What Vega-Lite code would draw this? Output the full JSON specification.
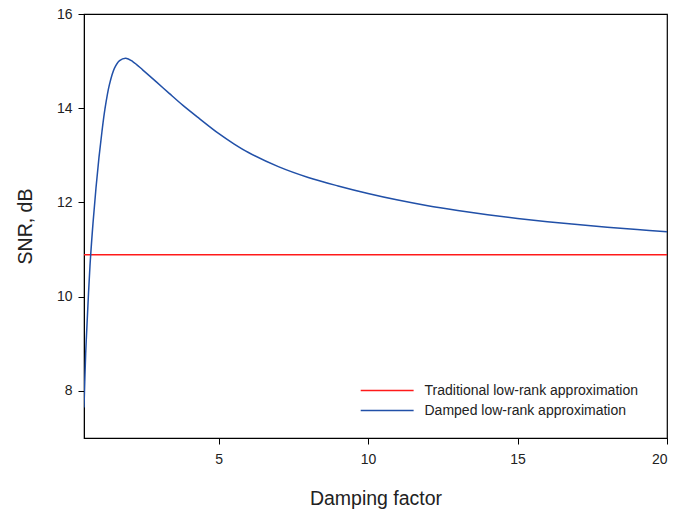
{
  "$schema": "https://vega.github.io/schema/vega-lite/v6.json",
  "width": 583,
  "height": 424,
  "autosize": {"type": "none"},
  "padding": {"left": 84, "top": 14, "right": 23, "bottom": 72},
  "background": "white",
  "config": {
    "view": {"stroke": "black", "strokeWidth": 1.2},
    "font": "Liberation Sans",
    "axis": {
      "grid": false,
      "domainColor": "black",
      "tickColor": "black",
      "tickSize": 6,
      "labelFont": "Liberation Sans",
      "labelFontSize": 14,
      "labelColor": "#222222",
      "titleFont": "Liberation Sans",
      "titleFontSize": 19.5,
      "titleFontWeight": "normal",
      "titleColor": "#222222"
    }
  },
  "data": {
    "values": [
      {"x": 0.5, "y": 10.89, "s": "Traditional low-rank approximation"},
      {"x": 20, "y": 10.89, "s": "Traditional low-rank approximation"},
      {"x": 0.5, "y": 7.65, "s": "Damped low-rank approximation"},
      {"x": 0.556, "y": 8.79, "s": "Damped low-rank approximation"},
      {"x": 0.6, "y": 9.4, "s": "Damped low-rank approximation"},
      {"x": 0.7, "y": 10.65, "s": "Damped low-rank approximation"},
      {"x": 0.8, "y": 11.55, "s": "Damped low-rank approximation"},
      {"x": 0.9, "y": 12.3, "s": "Damped low-rank approximation"},
      {"x": 1.0, "y": 12.95, "s": "Damped low-rank approximation"},
      {"x": 1.1, "y": 13.5, "s": "Damped low-rank approximation"},
      {"x": 1.2, "y": 13.98, "s": "Damped low-rank approximation"},
      {"x": 1.35, "y": 14.5, "s": "Damped low-rank approximation"},
      {"x": 1.52, "y": 14.85, "s": "Damped low-rank approximation"},
      {"x": 1.69, "y": 15.01, "s": "Damped low-rank approximation"},
      {"x": 1.9, "y": 15.06, "s": "Damped low-rank approximation"},
      {"x": 2.13, "y": 14.99, "s": "Damped low-rank approximation"},
      {"x": 2.47, "y": 14.81, "s": "Damped low-rank approximation"},
      {"x": 2.92, "y": 14.56, "s": "Damped low-rank approximation"},
      {"x": 3.36, "y": 14.31, "s": "Damped low-rank approximation"},
      {"x": 3.81, "y": 14.06, "s": "Damped low-rank approximation"},
      {"x": 4.36, "y": 13.78, "s": "Damped low-rank approximation"},
      {"x": 5.0, "y": 13.465, "s": "Damped low-rank approximation"},
      {"x": 5.5, "y": 13.25, "s": "Damped low-rank approximation"},
      {"x": 6.0, "y": 13.06, "s": "Damped low-rank approximation"},
      {"x": 7.0, "y": 12.76, "s": "Damped low-rank approximation"},
      {"x": 8.0, "y": 12.53, "s": "Damped low-rank approximation"},
      {"x": 9.0, "y": 12.35, "s": "Damped low-rank approximation"},
      {"x": 10, "y": 12.19, "s": "Damped low-rank approximation"},
      {"x": 11, "y": 12.05, "s": "Damped low-rank approximation"},
      {"x": 12, "y": 11.93, "s": "Damped low-rank approximation"},
      {"x": 13, "y": 11.83, "s": "Damped low-rank approximation"},
      {"x": 14, "y": 11.74, "s": "Damped low-rank approximation"},
      {"x": 15, "y": 11.66, "s": "Damped low-rank approximation"},
      {"x": 16, "y": 11.59, "s": "Damped low-rank approximation"},
      {"x": 17, "y": 11.53, "s": "Damped low-rank approximation"},
      {"x": 18, "y": 11.475, "s": "Damped low-rank approximation"},
      {"x": 19, "y": 11.425, "s": "Damped low-rank approximation"},
      {"x": 20, "y": 11.38, "s": "Damped low-rank approximation"}
    ]
  },
  "mark": {"type": "line", "strokeWidth": 1.5, "interpolate": "catmull-rom", "clip": true},
  "encoding": {
    "x": {
      "field": "x", "type": "quantitative",
      "scale": {"domain": [0.5, 20], "nice": false, "zero": false},
      "axis": {"values": [5, 10, 15, 20], "title": "Damping factor", "labelPadding": 8, "titlePadding": 23}
    },
    "y": {
      "field": "y", "type": "quantitative",
      "scale": {"domain": [7, 16], "nice": false, "zero": false},
      "axis": {"values": [8, 10, 12, 14, 16], "title": "SNR, dB", "labelPadding": 6, "titlePadding": 21}
    },
    "color": {
      "field": "s", "type": "nominal",
      "scale": {
        "domain": ["Traditional low-rank approximation", "Damped low-rank approximation"],
        "range": ["#ff1a1a", "#2150a8"]
      },
      "legend": {
        "title": null,
        "orient": "none",
        "legendX": 275,
        "legendY": 369.5,
        "symbolType": "M-1,0H9",
        "symbolSize": 112,
        "symbolStrokeWidth": 1.5,
        "symbolFillColor": "transparent",
        "labelFont": "Liberation Sans",
        "labelFontSize": 14,
        "labelColor": "#222222",
        "labelOffset": 51.5,
        "labelLimit": 400,
        "rowPadding": 6,
        "padding": 0
      }
    }
  }
}
